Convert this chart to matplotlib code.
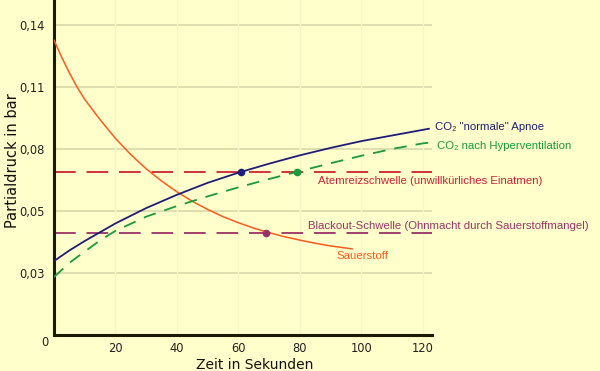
import matplotlib
matplotlib.use("Agg")
import matplotlib.pyplot as plt

# time in seconds and partial pressures in bar
t_o2 = [0, 2.5, 5, 7.5, 10, 15, 20, 25, 30, 35, 40, 45, 50, 55, 60, 65, 70, 75, 80, 85, 90, 97]
p_o2 = [0.1308, 0.1232, 0.1163, 0.1100, 0.1045, 0.0955, 0.0872, 0.0800, 0.0737, 0.0683,
        0.0635, 0.0593, 0.0557, 0.0525, 0.0498, 0.0474, 0.0454, 0.0436, 0.0421, 0.0407,
        0.0395, 0.0382]

t_co2 = [0, 5, 10, 20, 30, 40, 50, 60, 70, 80, 90, 100, 110, 120, 122]
p_co2_normal = [0.0328, 0.0375, 0.0417, 0.0495, 0.0563, 0.0622, 0.0675, 0.0720, 0.0760,
                0.0797, 0.0830, 0.0860, 0.0885, 0.0910, 0.0915]

t_hyper = [0, 5, 10, 15, 20, 30, 40, 50, 60, 70, 80, 90, 100, 110, 120, 122]
p_co2_hyper = [0.0257, 0.0320, 0.0370, 0.0420, 0.0462, 0.0525, 0.0572, 0.0615, 0.0655,
               0.0692, 0.0727, 0.0762, 0.0795, 0.0825, 0.0850, 0.0853]

atemreiz = 0.0723
blackout = 0.0452

# marked points: (t, p)
dot_normal = (61, atemreiz)
dot_hyper = (79, atemreiz)
dot_o2 = (69, blackout)

ytick_pos = [0.0275, 0.055, 0.0825, 0.11, 0.1375]
ytick_lab = ["0,03", "0,05", "0,08", "0,11", "0,14"]
xticks = [20, 40, 60, 80, 100, 120]

bg = "#FFFFCC"
navy = "#1E1E78"
green = "#1A9A3A"
red = "#CC2233"
purple = "#993366"
orange = "#FF5A1E"

fig = plt.figure(figsize=(6, 3.71), dpi=100, facecolor=bg)
ax = fig.add_axes([54/600, 1 - 335/371, 378/600, 335/371])
ax.set_facecolor(bg)
ax.set_xlim(0, 123)
ax.set_ylim(0, 0.1486)

for y in ytick_pos:
    ax.axhline(y, color="#D8D8A8", lw=1.2, zorder=1)
for x in xticks:
    ax.axvline(x, color="#F7F7C4", lw=1.0, zorder=1)

ax.axhline(atemreiz, color=red, lw=1.3, dashes=(12, 6), zorder=2)
ax.axhline(blackout, color=purple, lw=1.3, dashes=(12, 6), zorder=2)

ax.plot(t_o2, p_o2, color=orange, lw=1.1, zorder=3)
ax.plot(t_co2, p_co2_normal, color=navy, lw=1.3, zorder=3)
ax.plot(t_hyper, p_co2_hyper, color=green, lw=1.3, dashes=(7, 5), zorder=3)

ax.plot(*dot_normal, "o", color=navy, ms=4.5, zorder=4)
ax.plot(*dot_hyper, "o", color=green, ms=4.5, zorder=4)
ax.plot(*dot_o2, "o", color=purple, ms=4.5, zorder=4)

for s in ["top", "right"]:
    ax.spines[s].set_visible(False)
for s in ["left", "bottom"]:
    ax.spines[s].set_linewidth(2.2)
    ax.spines[s].set_color("#1A1A00")

ax.set_yticks(ytick_pos)
ax.set_yticklabels(ytick_lab)
ax.set_xticks(xticks)
ax.tick_params(length=0, labelsize=8.3, colors="#222222", pad=7)
ax.tick_params(axis="x", pad=5)
fig.text(45/600, 1 - 343/371, "0", fontsize=8.3, color="#222222", ha="center", va="center")

fig.text(13/600, 1 - 161/371, "Partialdruck in bar", rotation=90, fontsize=10.5,
         ha="center", va="center", color="#111111")
fig.text(255/600, 1 - 365/371, "Zeit in Sekunden", fontsize=10,
         ha="center", va="center", color="#111111")

lab = dict(fontsize=8.2, family="Liberation Sans", va="center", clip_on=False)
fig.text(435/600, 1 - 127/371, "CO₂ \"normale\" Apnoe", color=navy, **lab)
fig.text(437/600, 1 - 146/371, "CO₂ nach Hyperventilation", color=green, **lab)
fig.text(318/600, 1 - 181/371, "Atemreizschwelle (unwillkürliches Einatmen)", color=red, **lab)
fig.text(308/600, 1 - 226/371, "Blackout-Schwelle (Ohnmacht durch Sauerstoffmangel)", color=purple, **lab)
fig.text(336/600, 1 - 256/371, "Sauerstoff", color=orange, **lab)

fig.savefig("out.png", dpi=100, facecolor=bg)
